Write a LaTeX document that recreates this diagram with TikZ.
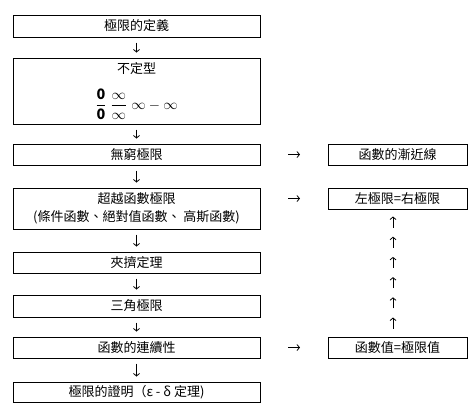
\documentclass[tikz,border=0pt]{standalone}
\usepackage{fontspec}
\setmainfont{Noto Sans CJK TC}
\usetikzlibrary{positioning,arrows.meta}

\begin{document}
\begin{tikzpicture}[x=1pt, y=-1pt,
  every node/.style={font=\fontsize{13}{18}\selectfont},
  box/.style={draw, line width=1pt, rectangle, minimum width=247pt, minimum height=21pt, inner sep=0pt, align=center},
  sidebox/.style={box, minimum width=139pt},
  flow/.style={-{Straight Barb[length=2.5pt,width=6pt]}, line width=0.8pt, shorten <=5pt, shorten >=5pt},
  side/.style={flow, shorten <=27.5pt, shorten >=27.5pt},
  rise/.style={flow, shorten <=0pt, shorten >=0pt}]

\useasboundingbox (0,0) rectangle (476,416);

\node[box, minimum height=66pt] (indet) at (136.5,91) {不定型\\[13pt]{\fontsize{14.4}{18}\selectfont$\displaystyle\frac{\hbox{\bfseries 0}}{\hbox{\bfseries 0}}\;\frac{\displaystyle\infty}{\displaystyle\infty}\;\infty-\infty$}};
\node[box, minimum height=22pt] (defn) at (136.5,26) {極限的定義};
\node[box] (infin) at (136.5,154.5) {無窮極限};
\node[box, minimum height=41pt] (trans) at (136.5,208.5) {超越函數極限\\(條件函數、絕對值函數、 高斯函數)};
\node[box] (squeeze) at (136.5,262.5) {夾擠定理};
\node[box, minimum height=22pt] (trig) at (136.5,306) {三角極限};
\node[box] (cont) at (136.5,347.5) {函數的連續性};
\node[box, minimum height=20pt] (proof) at (136.5,392) {極限的證明（ε - δ 定理)};

\node[sidebox, right=67pt of infin] (asym) {函數的漸近線};
\node[sidebox, below right=0pt and 67pt of trans.north east] (onesided) {左極限=右極限};
\node[sidebox, right=67pt of cont] (value) {函數值=極限值};

\draw[flow] (defn) -- (indet);
\draw[flow] (indet) -- (infin);
\draw[flow] (infin) -- (trans);
\draw[flow] (trans) -- (squeeze);
\draw[flow] (squeeze) -- (trig);
\draw[flow] (trig) -- (cont);
\draw[flow] (cont) -- (proof);

\draw[side] (infin) -- (asym);
\draw[side] (trans.east |- onesided) -- (onesided);
\draw[side] (cont) -- (value);

\foreach \k in {0,...,5} {
  \coordinate (lo\k) at (393,{227.5+20.2*\k});
  \coordinate (hi\k) at (393,{216.5+20.2*\k});
  \draw[rise] (lo\k) -- (hi\k);
}
\end{tikzpicture}
\end{document}
